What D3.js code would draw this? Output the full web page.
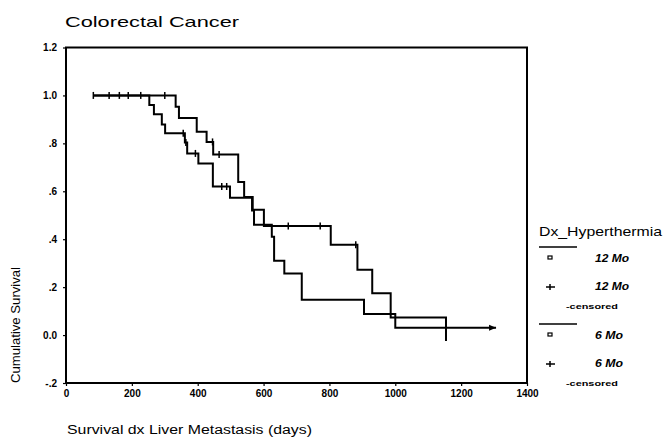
<!DOCTYPE html>
<html><head><meta charset="utf-8">
<script src="https://cdn.jsdelivr.net/npm/d3@7/dist/d3.min.js"></script>
<style>body{margin:0;background:#fff}svg{display:block}text{font-family:Arial,"Liberation Sans",sans-serif;fill:#000}</style>
</head><body>
<svg id="c" width="663" height="439"></svg>
<script>
// ---- data ----
const xTicks = [0, 200, 400, 600, 800, 1000, 1200, 1400];
const yTicks = [-0.2, 0, 0.2, 0.4, 0.6, 0.8, 1.0, 1.2];
const yTickLabels = ["-.2", "0.0", ".2", ".4", ".6", ".8", "1.0", "1.2"];
const seriesNames = ["12 Mo", "6 Mo"];
// series A: event times (days) and survival after each step
const timesA = [83, 333, 343, 397, 427, 447, 523, 541, 567, 601, 804, 885, 930, 986, 1154];
const survA  = [1.0, 0.953, 0.906, 0.848, 0.806, 0.753, 0.639, 0.576, 0.523, 0.455, 0.377, 0.273, 0.175, 0.073, -0.025];
const censTimesA = [300, 445, 465, 675, 772, 880];
const censSurvA  = [1.0, 0.806, 0.753, 0.455, 0.455, 0.377];
// series B
const timesB = [83, 253, 267, 291, 301, 361, 368, 402, 446, 498, 565, 571, 625, 632, 663, 716, 905, 1000, 1306];
const survB  = [1.0, 0.96, 0.921, 0.879, 0.842, 0.804, 0.758, 0.716, 0.62, 0.573, 0.52, 0.46, 0.41, 0.31, 0.257, 0.147, 0.088, 0.031, 0.031];
const censTimesB = [83, 131, 162, 189, 227, 356, 364, 393, 473, 488];
const censSurvB  = [1.0, 1.0, 1.0, 1.0, 1.0, 0.842, 0.804, 0.758, 0.62, 0.62];

const svg = d3.select("#c");
const x = d3.scaleLinear().domain([0, 1400]).range([66, 527]);
const y = d3.scaleLinear().domain([-0.2, 1.2]).range([383, 47.5]);

// title
svg.append("text").attr("x", 65).attr("y", 27).attr("font-size", 15)
  .attr("textLength", 174).attr("lengthAdjust", "spacingAndGlyphs").text("Colorectal Cancer");

// frame
svg.append("rect").attr("x", x(0)).attr("y", y(1.2)).attr("width", x(1400) - x(0)).attr("height", y(-0.2) - y(1.2))
  .attr("fill", "none").attr("stroke", "#000").attr("stroke-width", 2);

// y axis ticks
const yAxis = d3.axisLeft(y).tickValues(yTicks).tickSize(3).tickPadding(6)
  .tickFormat((d, i) => yTickLabels[i]);
const gy = svg.append("g").attr("transform", `translate(${x(0)},0)`).call(yAxis);
gy.select(".domain").remove();
gy.selectAll("text").attr("font-size", 10).attr("font-weight", "bold").attr("font-family", "Arial,'Liberation Sans',sans-serif");
gy.selectAll("line").attr("stroke-width", 1.2);

// x axis ticks
const xAxis = d3.axisBottom(x).tickValues(xTicks).tickSize(3).tickPadding(4).tickFormat(d3.format("d"));
const gx = svg.append("g").attr("transform", `translate(0,${y(-0.2)})`).call(xAxis);
gx.select(".domain").remove();
gx.selectAll("text").attr("font-size", 10).attr("font-weight", "bold").attr("font-family", "Arial,'Liberation Sans',sans-serif");
gx.selectAll("line").attr("stroke-width", 1.2);

// axis titles
svg.append("text").attr("transform", `translate(20,${325}) rotate(-90)`).attr("text-anchor", "middle")
  .attr("font-size", 12).attr("textLength", 116).attr("lengthAdjust", "spacingAndGlyphs").text("Cumulative Survival");
svg.append("text").attr("x", 67).attr("y", 434).attr("font-size", 12.5)
  .attr("textLength", 245).attr("lengthAdjust", "spacingAndGlyphs").text("Survival dx Liver Metastasis (days)");

// survival curves
const line = d3.line().x(d => x(d[0])).y(d => y(d[1])).curve(d3.curveStepAfter);
const ptsA = timesA.map((t, i) => [t, survA[i]]);
const ptsB = timesB.map((t, i) => [t, survB[i]]);
[ptsA, ptsB].forEach(p => svg.append("path").attr("d", line(p)).attr("fill", "none")
  .attr("stroke", "#000").attr("stroke-width", 2));

// censor marks
function cens(ts, ss) {
  ts.forEach((t, i) => svg.append("line").attr("x1", x(t)).attr("x2", x(t))
    .attr("y1", y(ss[i]) - 3.5).attr("y2", y(ss[i]) + 3.5).attr("stroke", "#000").attr("stroke-width", 1.5));
}
cens(censTimesA, censSurvA);
cens(censTimesB, censSurvB);

// arrow at end of series B
const ex = x(timesB[timesB.length - 1]), ey = y(survB[survB.length - 1]);
svg.append("path").attr("d", `M${ex - 7},${ey - 3} L${ex},${ey} L${ex - 7},${ey + 3} Z`).attr("fill", "#000");

// legend
const lg = svg.append("g");
lg.append("text").attr("x", 539).attr("y", 236).attr("font-size", 13)
  .attr("textLength", 123).attr("lengthAdjust", "spacingAndGlyphs").text("Dx_Hyperthermia");
const rowY = [258, 335];
seriesNames.forEach((name, k) => {
  const by = rowY[k];
  lg.append("line").attr("x1", 539).attr("x2", 577).attr("y1", by - 11).attr("y2", by - 11).attr("stroke", "#000").attr("stroke-width", 1.5);
  lg.append("rect").attr("x", 548).attr("y", by - 2).attr("width", 4).attr("height", 3).attr("fill", "none").attr("stroke", "#000").attr("stroke-width", 1.2);
  lg.append("text").attr("x", 595).attr("y", by + 4).attr("font-size", 10).attr("font-weight", "bold").attr("font-style", "italic")
    .attr("textLength", k === 0 ? 34 : 28).attr("lengthAdjust", "spacingAndGlyphs").text(name);
  lg.append("line").attr("x1", 546).attr("x2", 555).attr("y1", by + 29).attr("y2", by + 29).attr("stroke", "#000").attr("stroke-width", 1.5);
  lg.append("line").attr("x1", 550).attr("x2", 550).attr("y1", by + 26).attr("y2", by + 32).attr("stroke", "#000").attr("stroke-width", 1.5);
  lg.append("text").attr("x", 595).attr("y", by + 32).attr("font-size", 10).attr("font-weight", "bold").attr("font-style", "italic")
    .attr("textLength", k === 0 ? 34 : 28).attr("lengthAdjust", "spacingAndGlyphs").text(name);
  lg.append("text").attr("x", 566).attr("y", by + 51).attr("font-size", 8).attr("font-weight", "bold")
    .attr("textLength", 52).attr("lengthAdjust", "spacingAndGlyphs").text("-censored");
});
</script>
</body></html>
